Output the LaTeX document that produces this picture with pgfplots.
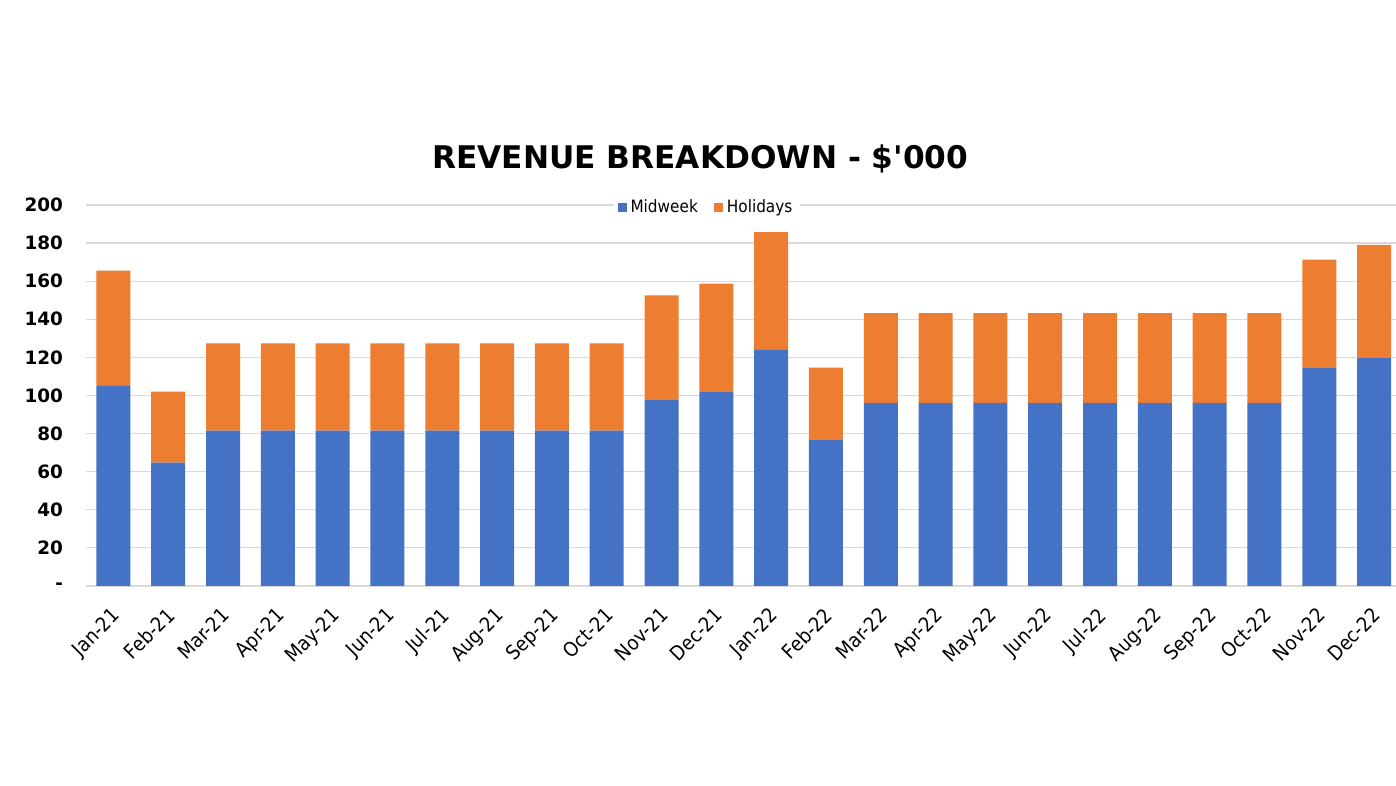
\documentclass[border=0pt]{standalone}
\usepackage{pgfplots}
\pgfplotsset{compat=1.18}
\usepackage{fontspec}
\setmainfont{DejaVu Sans}
\newfontfamily\cond{DejaVu Sans Condensed}
\newfontfamily\titlefont{DejaVu Sans}[Ligatures=TeXOff]
\definecolor{mid}{HTML}{4472C4}
\definecolor{hol}{HTML}{ED7D31}
\definecolor{gridc}{HTML}{D9D9D9}
\begin{document}
\begin{tikzpicture}
\useasboundingbox (-43pt,-100pt) rectangle (655pt,293pt);
\begin{axis}[
    scale only axis,
    width=655pt, height=190.5pt,
    ybar stacked, bar width=0.62,
    xmin=-0.5, xmax=23.4, ymin=0, ymax=200,
    xtick=data,
    xticklabels={Jan-21,Feb-21,Mar-21,Apr-21,May-21,Jun-21,Jul-21,Aug-21,Sep-21,Oct-21,Nov-21,Dec-21,
                 Jan-22,Feb-22,Mar-22,Apr-22,May-22,Jun-22,Jul-22,Aug-22,Sep-22,Oct-22,Nov-22,Dec-22},
    x tick label style={rotate=45, anchor=north east, font=\cond\fontsize{10}{12}\selectfont, inner sep=1pt, xshift=-7pt, yshift=-5pt},
    ytick={0,20,...,200},
    yticklabels={-,20,40,60,80,100,120,140,160,180,200},
    y tick label style={font=\bfseries\fontsize{9.2}{11}\selectfont, xshift=-8pt},
    major tick length=0,
    ymajorgrids, grid style={gridc, line width=0.6pt},
    axis lines*=left,
    y axis line style={draw=none},
    x axis line style={gridc, line width=0.8pt},
    title={\titlefont\bfseries REVENUE BREAKDOWN - \$'000},
    title style={at={(0.469,1.126)}, anchor=center, yshift=-7pt, font=\fontsize{15.6}{18}\selectfont},
    legend columns=2,
    legend style={at={(0.474,0.992)}, anchor=center, draw=none, fill=white,
        font=\cond\fontsize{8.5}{10}\selectfont, inner sep=2pt,
        /tikz/every even column/.append style={column sep=6pt}},
    legend image code/.code={\fill[#1] (0pt,-2.2pt) rectangle (4.5pt,2.3pt);},
]
\addplot[fill=mid, draw=none] coordinates {
(0,105.1)(1,64.7)(2,81.5)(3,81.5)(4,81.5)(5,81.5)(6,81.5)(7,81.5)(8,81.5)(9,81.5)(10,97.6)(11,101.8)
(12,123.9)(13,76.6)(14,96.1)(15,96.1)(16,96.1)(17,96.1)(18,96.1)(19,96.1)(20,96.1)(21,96.1)(22,114.4)(23,119.9)};
\addplot[fill=hol, draw=none] coordinates {
(0,60.4)(1,37.3)(2,45.9)(3,45.9)(4,45.9)(5,45.9)(6,45.9)(7,45.9)(8,45.9)(9,45.9)(10,55.0)(11,56.9)
(12,61.8)(13,38.0)(14,47.2)(15,47.2)(16,47.2)(17,47.2)(18,47.2)(19,47.2)(20,47.2)(21,47.2)(22,56.9)(23,59.1)};
\legend{Midweek,Holidays}
\end{axis}
\end{tikzpicture}
\end{document}
